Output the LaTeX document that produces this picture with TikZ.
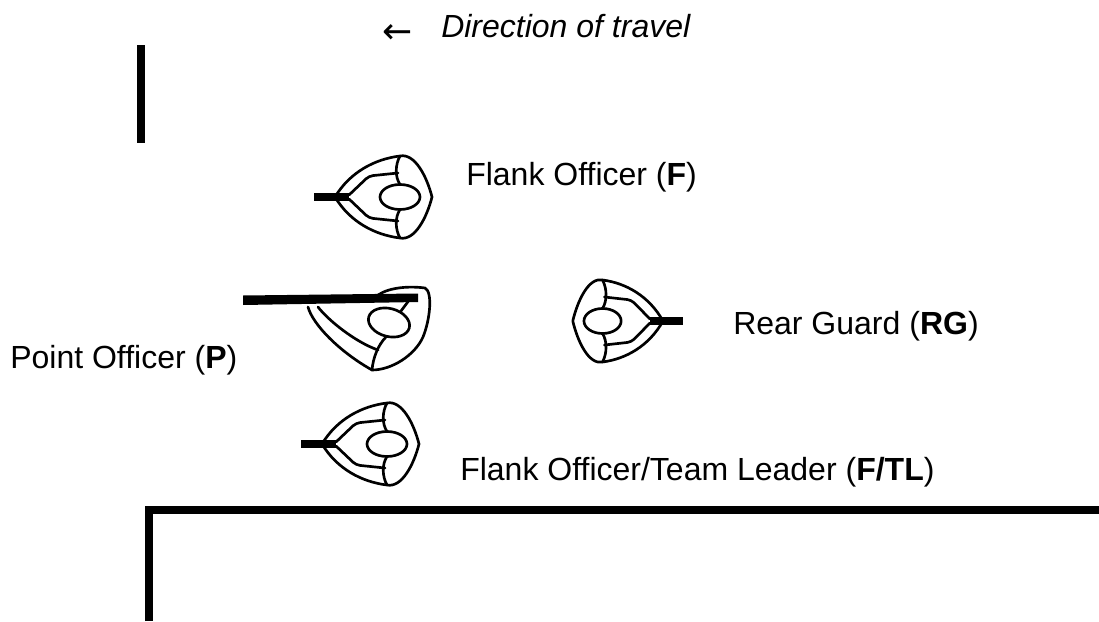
\documentclass[tikz,border=0pt]{standalone}
\usepackage{fontspec}
\setmainfont{Liberation Sans}
\newfontfamily\symbolfont{DejaVu Sans}
\usetikzlibrary{arrows.meta}
\begin{document}
\begin{tikzpicture}[x=0.75pt,y=-0.75pt,
  body/.style={line width=2pt, line join=round, line cap=round},
  wall/.style={line width=6pt, line join=miter},
  nametext/.style={anchor=base west, inner sep=0pt, font=\fontsize{24}{29}\selectfont},
  officer/.pic={
    % weapon held forward
    \fill (-21,-4) rectangle (14,4);
    % outline: arms meeting at the weapon, rounded cap at the back
    \draw[body] (0,0) .. controls (15,-25) and (40,-38) .. (65,-41)
       .. controls (80,-44) and (92,-20) .. (97,0)
       .. controls (92,20) and (80,44) .. (65,41)
       .. controls (40,38) and (15,25) .. cycle;
    % inner edges of the arms
    \draw[body,rounded corners=3] (14,-2) -- (34,-21) -- (63,-24);
    \draw[body,rounded corners=3] (14,2) -- (34,21) -- (63,24);
    % shoulders and head
    \draw[body] (65,-41) .. controls (60,-32) and (60,-20) .. (65,-12.5);
    \draw[body] (65,41) .. controls (60,32) and (60,20) .. (65,12.5);
    \draw[body] (65,0) ellipse [x radius=20, y radius=12.5];
  }]
\useasboundingbox (0,0) rectangle (1099,621);

% walls
\coordinate (upperWallA) at (141,45);
\coordinate (upperWallB) at (141,143);
\draw[wall] (upperWallA) -- (upperWallB);
\coordinate (lowerWallA) at (149,621);
\coordinate (lowerWallB) at (149,510);
\coordinate (lowerWallC) at (1099,510);
\draw[wall] (lowerWallA) -- (lowerWallB) -- (lowerWallC);

% heading
\node[anchor=base west, inner sep=0pt, font=\symbolfont\fontsize{27}{30}\selectfont] (arrowSign) at (382,43) {←};
\node[nametext] (dirText) at (441,37) {\itshape Direction of travel};

% team members
\pic (flank) at (335,197) {officer};
\pic (leader) at (322,444) {officer};
\pic[xscale=-0.93] (rear) at (663,321) {officer};

% point officer, weapon raised along the upper arm
\fill (243,295.5) -- (418,293.5) -- (418,302) -- (243,305) -- cycle;
\draw[body] (308,307) .. controls (313,325) and (340,352) .. (372,370)
   .. controls (392,370) and (415,355) .. (423,337)
   .. controls (430,320) and (433,292) .. (425,288)
   .. controls (410,286) and (390,287) .. (378,295);
\draw[body] (318,307) .. controls (328,320) and (355,342) .. (378,350);
\draw[body] (372,370) .. controls (373,358) and (378,345) .. (386,337);
\draw[body, rotate around={-15:(389,322.5)}] (389,322.5) ellipse [x radius=21, y radius=14];
\draw[body] (401,311) -- (410,299);

% names
\node[nametext] (fLabel) at (466,185) {Flank Officer (\textbf{F})};
\node[nametext] (rgLabel) at (733,334) {Rear Guard (\textbf{RG})};
\node[nametext] (pLabel) at (10,368) {Point Officer (\textbf{P})};
\node[nametext] (ftlLabel) at (460,480) {Flank Officer/Team Leader (\textbf{F/TL})};
\end{tikzpicture}
\end{document}
